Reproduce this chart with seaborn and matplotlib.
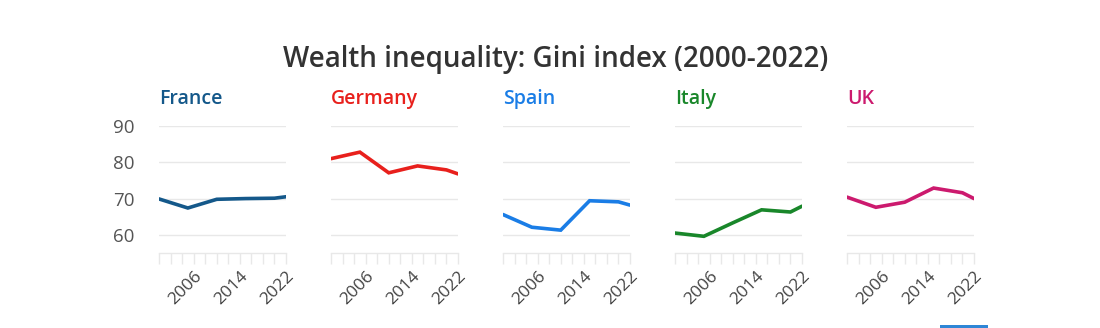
import matplotlib
matplotlib.use("Agg")
import matplotlib.pyplot as plt
from matplotlib.patches import Rectangle
from matplotlib.ticker import FixedLocator
import seaborn as sns
import pandas as pd

sns.set_theme(style="white")
plt.rcParams["font.family"] = ["Open Sans", "DejaVu Sans"]

# Gini index of wealth by country
countries = ["France", "Germany", "Spain", "Italy", "UK"]
colors = ["#14588a", "#e8201c", "#1a7de6", "#19872a", "#cc1a6e"]

years_fr = [2000, 2005, 2010, 2015, 2020, 2022]
gini_fr = [69.9, 67.4, 69.8, 70.0, 70.1, 70.5]

years_de = [2000, 2005, 2010, 2015, 2020, 2022]
gini_de = [81.0, 82.8, 77.1, 79.0, 77.9, 76.8]

years_es = [2000, 2005, 2010, 2015, 2020, 2022]
gini_es = [65.6, 62.1, 61.3, 69.4, 69.1, 68.2]

years_it = [2000, 2005, 2010, 2015, 2020, 2022]
gini_it = [60.5, 59.6, 63.3, 66.9, 66.3, 67.9]

years_uk = [2000, 2005, 2010, 2015, 2020, 2022]
gini_uk = [70.4, 67.6, 69.0, 72.9, 71.6, 70.0]

y_ticks = [60, 70, 80, 90]
x_labels = [2006, 2014, 2022]
x_minor = list(range(2000, 2023, 2))

frames = []
for name, yrs, vals in [
    ("France", years_fr, gini_fr),
    ("Germany", years_de, gini_de),
    ("Spain", years_es, gini_es),
    ("Italy", years_it, gini_it),
    ("UK", years_uk, gini_uk),
]:
    frames.append(pd.DataFrame({"country": name, "year": yrs, "gini": vals}))
df = pd.concat(frames, ignore_index=True)

W, H = 1100, 328
fig = plt.figure(figsize=(W / 100, H / 100), dpi=100)
fig.patch.set_facecolor("white")

fig.text(556 / W, 1 - 60 / H, "Wealth inequality: Gini index (2000-2022)",
         ha="center", va="center", fontsize=20, fontweight="semibold", color="#333333")

panel_left = 159
panel_step = 172
panel_w = 127
top, bottom = 126, 253
grid_c = "#e8e8e8"

for i, (name, col) in enumerate(zip(countries, colors)):
    x0 = panel_left + i * panel_step
    ax = fig.add_axes([x0 / W, 1 - bottom / H, panel_w / W, (bottom - top) / H])
    sub = df[df["country"] == name]
    sns.lineplot(data=sub, x="year", y="gini", ax=ax, color=col,
                 linewidth=2.6, legend=False, solid_joinstyle="miter")
    ax.set_xlim(2000, 2022)
    ax.set_ylim(55, 90)
    ax.set_xlabel("")
    ax.set_ylabel("")
    ax.set_yticks(y_ticks)
    ax.yaxis.grid(True, color=grid_c, linewidth=1.0)
    ax.xaxis.grid(False)
    ax.set_axisbelow(True)
    for s in ["top", "right", "left"]:
        ax.spines[s].set_visible(False)
    ax.spines["bottom"].set_color(grid_c)
    ax.spines["bottom"].set_linewidth(1.0)

    ax.xaxis.set_major_locator(FixedLocator(x_labels))
    ax.xaxis.set_minor_locator(FixedLocator(x_minor))
    ax.set_xticklabels([str(v) for v in x_labels], rotation=45, ha="right",
                       rotation_mode="anchor", fontsize=12.5, color="#444444")
    ax.tick_params(axis="x", which="both", bottom=True, length=8, width=1,
                   color=grid_c, pad=3)
    if i == 0:
        ax.tick_params(axis="y", left=False, labelsize=13.5, labelcolor="#555555", pad=11.5)
    else:
        ax.tick_params(axis="y", left=False, labelleft=False)

    ax.text(0.0, 1.0 + 27 / (bottom - top), name, transform=ax.transAxes,
            ha="left", va="center", fontsize=14, fontweight="semibold", color=col)

fig.patches.append(Rectangle((940 / W, 0), 48 / W, 3 / H, transform=fig.transFigure,
                             facecolor="#2f86d6", edgecolor="none"))

fig.savefig("out.png", dpi=100, facecolor="white")
